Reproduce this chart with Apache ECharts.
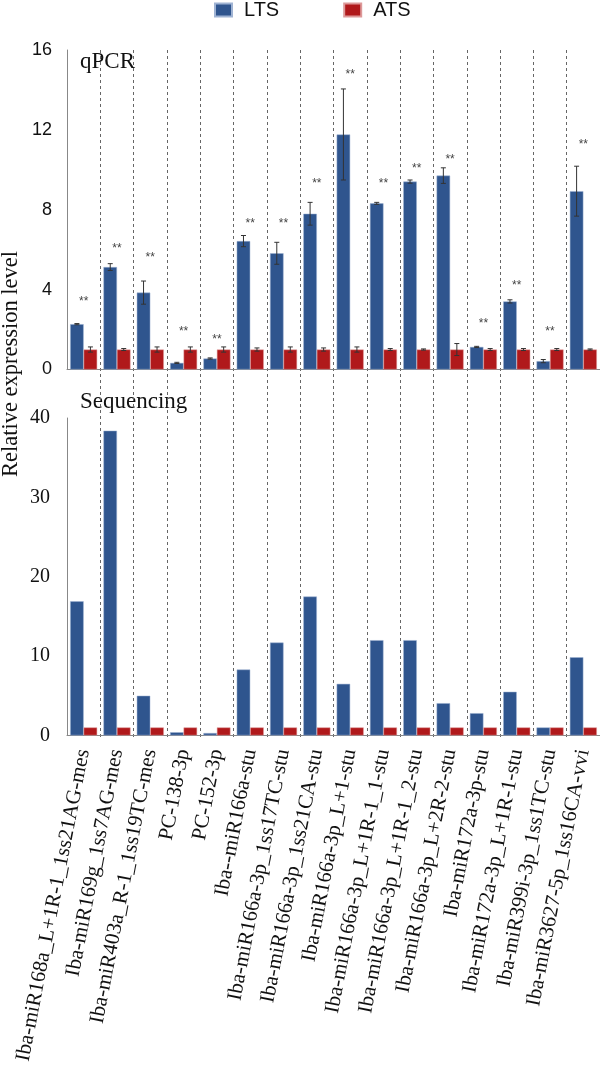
<!DOCTYPE html>
<html><head><meta charset="utf-8">
<script src="https://cdn.jsdelivr.net/npm/echarts@6/dist/echarts.min.js"></script>
<style>html,body{margin:0;padding:0;background:#fff}#c{width:600px;height:1066px}</style>
</head><body><div id="c"></div>
<script>
const categories = [
  'Iba-miR168a_L+1R-1_1ss21AG-mes','Iba-miR169g_1ss7AG-mes','Iba-miR403a_R-1_1ss19TC-mes',
  'PC-138-3p','PC-152-3p','Iba--miR166a-stu','Iba-miR166a-3p_1ss17TC-stu','Iba-miR166a-3p_1ss21CA-stu',
  'Iba-miR166a-3p_L+1-stu','Iba-miR166a-3p_L+1R-1_1-stu','Iba-miR166a-3p_L+1R-1_2-stu',
  'Iba-miR166a-3p_L+2R-2-stu','Iba-miR172a-3p-stu','Iba-miR172a-3p_L+1R-1-stu',
  'Iba-miR399i-3p_1ss1TC-stu','Iba-miR3627-5p_1ss16CA-vvi'
];
const qpcrLTS    = [2.27, 5.13, 3.85, 0.33, 0.55, 6.43, 5.82, 7.80, 11.77, 8.32, 9.41, 9.71, 1.13, 3.41, 0.42, 8.93];
const qpcrLTSerr = [0.03, 0.17, 0.58, 0.03, 0.03, 0.28, 0.55, 0.57, 2.28, 0.05, 0.08, 0.39, 0.03, 0.08, 0.08, 1.25];
const qpcrATS    = [1, 1, 1, 1, 1, 1, 1, 1, 1, 1, 1, 1, 1, 1, 1, 1];
const qpcrATSerr = [0.13, 0.05, 0.13, 0.13, 0.13, 0.08, 0.13, 0.08, 0.13, 0.05, 0.03, 0.30, 0.05, 0.05, 0.05, 0.03];
const sigLevel   = [3.39, 6.03, 5.62, 1.89, 1.50, 7.32, 7.32, 9.29, 14.76, 9.29, 10.08, 10.5, 2.31, 4.19, 1.89, 11.28];
const sigMark = '**';
const seqLTS = [16.9, 38.4, 5.0, 0.4, 0.3, 8.3, 11.7, 17.5, 6.5, 12.0, 12.0, 4.06, 2.8, 5.5, 1.0, 9.85];
const seqATS = [1, 1, 1, 1, 1, 1, 1, 1, 1, 1, 1, 1, 1, 1, 1, 1];
const qpcrTicks = {min: 0, max: 16, interval: 4};
const seqTicks = {min: 0, max: 40, interval: 10};

const BLUE = '#2f558e', RED = '#b0191b';
const SERIF = '"Liberation Serif","DejaVu Serif",serif';
const SANS = '"Liberation Sans",Arial,sans-serif';
const BW = 13.5;

const chart = echarts.init(document.getElementById('c'), null, {renderer: 'canvas'});

function errItem(vals, errs, side) {
  return function (params, api) {
    const i = api.value(0);
    const v = vals[i], e = errs[i];
    const hi = api.coord([i, v + e]);
    const lo = api.coord([i, v - e]);
    const x = hi[0] + side * BW / 2;
    const cap = 2.5;
    const st = {stroke: '#333', lineWidth: 1};
    return {type: 'group', children: [
      {type: 'line', shape: {x1: x, y1: hi[1], x2: x, y2: lo[1]}, style: st},
      {type: 'line', shape: {x1: x - cap, y1: hi[1], x2: x + cap, y2: hi[1]}, style: st},
      {type: 'line', shape: {x1: x - cap, y1: lo[1], x2: x + cap, y2: lo[1]}, style: st}
    ]};
  };
}

const idx = categories.map((c, i) => [i]);

chart.setOption({
  animation: false,
  legend: {
    left: 214, top: 0, padding: 0, itemWidth: 17, itemHeight: 13, itemGap: 64,
    icon: 'rect',
    textStyle: {fontFamily: SANS, fontSize: 20, color: '#111', padding: [0, 0, 0, 7]},
    data: ['LTS', 'ATS']
  },
  grid: [
    {left: 67, right: 0, top: 50, height: 319.5},
    {left: 67, right: 0, top: 418, height: 319.5},
    {left: 67, right: 0, top: 50, height: 687}
  ],
  xAxis: [
    {gridIndex: 0, type: 'category', data: categories, axisLine: {lineStyle: {color: '#888'}},
     axisTick: {show: false}, axisLabel: {show: false}},
    {gridIndex: 1, type: 'category', data: categories, axisLine: {lineStyle: {color: '#888'}},
     axisTick: {show: false},
     axisLabel: {interval: 0, rotate: 79, margin: 14, fontFamily: SERIF, fontSize: 21, color: '#111'}},
    {gridIndex: 2, type: 'category', data: categories, axisLine: {show: false},
     axisTick: {show: false}, axisLabel: {show: false},
     splitLine: {show: true, showMinLine: false, showMaxLine: false, interval: 0,
       lineStyle: {color: '#666', type: [3, 3], width: 1}}}
  ],
  yAxis: [
    {gridIndex: 0, type: 'value', min: qpcrTicks.min, max: qpcrTicks.max, interval: qpcrTicks.interval,
     axisLine: {show: true, lineStyle: {color: '#888'}}, axisTick: {show: false}, splitLine: {show: false},
     axisLabel: {margin: 15, fontFamily: SANS, fontSize: 18, color: '#111'}},
    {gridIndex: 1, type: 'value', min: seqTicks.min, max: seqTicks.max, interval: seqTicks.interval,
     axisLine: {show: true, lineStyle: {color: '#888'}}, axisTick: {show: false}, splitLine: {show: false},
     axisLabel: {margin: 17, fontFamily: SERIF, fontSize: 20, color: '#111'}},
    {gridIndex: 2, type: 'value', show: false, min: 0, max: 1}
  ],
  graphic: [
    {type: 'text', left: 80, top: 50, style: {text: 'qPCR', font: '23px ' + SERIF, fill: '#111'}},
    {type: 'text', left: 80, top: 390, style: {text: 'Sequencing', font: '23px ' + SERIF, fill: '#111'}},
    {type: 'text', x: 11, y: 364, rotation: Math.PI / 2,
     style: {text: 'Relative expression level', font: '22.5px ' + SERIF, fill: '#111', align: 'center', verticalAlign: 'middle'}}
  ],
  series: [
    {name: 'LTS', type: 'bar', xAxisIndex: 0, yAxisIndex: 0, data: qpcrLTS, barWidth: BW, barGap: '0%',
     itemStyle: {color: BLUE, borderColor: '#9fb3d3', borderWidth: 0.5}},
    {name: 'ATS', type: 'bar', xAxisIndex: 0, yAxisIndex: 0, data: qpcrATS, barWidth: BW, barGap: '0%',
     itemStyle: {color: RED, borderColor: '#d99', borderWidth: 0.5}},
    {name: 'LTS', type: 'bar', xAxisIndex: 1, yAxisIndex: 1, data: seqLTS, barWidth: BW, barGap: '0%',
     itemStyle: {color: BLUE, borderColor: '#9fb3d3', borderWidth: 0.5}},
    {name: 'ATS', type: 'bar', xAxisIndex: 1, yAxisIndex: 1, data: seqATS, barWidth: BW, barGap: '0%',
     itemStyle: {color: RED, borderColor: '#d99', borderWidth: 0.5}},
    {type: 'custom', xAxisIndex: 0, yAxisIndex: 0, data: idx, renderItem: errItem(qpcrLTS, qpcrLTSerr, -1), z: 5},
    {type: 'custom', xAxisIndex: 0, yAxisIndex: 0, data: idx, renderItem: errItem(qpcrATS, qpcrATSerr, 1), z: 5},
    {type: 'custom', xAxisIndex: 0, yAxisIndex: 0, data: idx, z: 5,
     renderItem: function (params, api) {
       const i = api.value(0);
       const p = api.coord([i, sigLevel[i]]);
       return {type: 'text', x: p[0], y: p[1],
         style: {text: sigMark, font: '12px ' + SANS, fill: '#444', align: 'center', verticalAlign: 'middle'}};
     }}
  ]
});
</script></body></html>
